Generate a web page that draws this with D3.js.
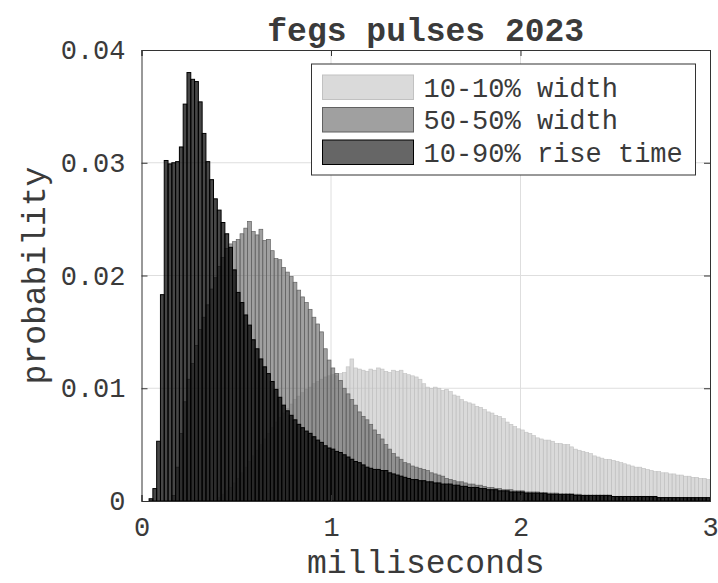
<!DOCTYPE html>
<html>
<head>
<meta charset="utf-8">
<script src="https://cdn.jsdelivr.net/npm/d3@7"></script>
<style>
  html, body { margin: 0; padding: 0; background: #fff; }
  svg { display: block; }
  text { font-family: "Liberation Mono", "DejaVu Sans Mono", monospace; fill: #3a3a3a; }
</style>
</head>
<body>
<svg id="chart" width="718" height="583"></svg>
<script>
// Histogram bins: 0.02 ms wide, covering 0 to 3 ms (150 bins).
const binWidth = 0.02;
const binStarts = d3.range(150).map(i => +(i * binWidth).toFixed(2));

// 10-10% width
const width1010 = [
  0,0,0,0,0,0,0,0,0,0,
  0,0,0,0,0,0,0,0,0,0,
  0.0003,0.0006,0.0009,0.0012,0.0016,0.0020,0.0025,0.0030,0.0035,0.0040,
  0.0045,0.0050,0.0055,0.0060,0.0065,0.0070,0.0074,0.0078,0.0082,0.0086,
  0.0090,0.0093,0.0096,0.0099,0.0101,0.0104,0.0106,0.0108,0.0110,0.0111,
  0.0112,0.0111,0.0113,0.0114,0.0119,0.0126,0.0118,0.0117,0.0116,0.0115,
  0.0117,0.0116,0.0118,0.0117,0.0115,0.0114,0.0116,0.0115,0.0116,0.0113,
  0.0112,0.0111,0.0110,0.0108,0.0104,0.0101,0.0100,0.0101,0.0100,0.0098,
  0.0099,0.0097,0.0094,0.0093,0.0090,0.0088,0.0087,0.0086,0.0084,0.0083,
  0.0081,0.0079,0.0078,0.0076,0.0075,0.0073,0.0070,0.0068,0.0066,0.0064,
  0.0063,0.0061,0.0060,0.0058,0.0056,0.0055,0.0054,0.0054,0.0053,0.0051,
  0.0051,0.0050,0.0050,0.0048,0.0046,0.0045,0.0044,0.0043,0.0042,0.0040,
  0.0039,0.0038,0.0037,0.0037,0.0036,0.0035,0.0034,0.0033,0.0032,0.0031,
  0.0030,0.0030,0.0029,0.0028,0.0027,0.0026,0.0026,0.0025,0.0025,0.0024,
  0.0024,0.0023,0.0023,0.0022,0.0022,0.0021,0.0021,0.0020,0.0020,0.0019
];

// 50-50% width
const width5050 = [
  0,0,0,0,0,0,0,0,0.0005,0.0030,
  0.0060,0.0088,0.0108,0.0122,0.0138,0.0152,0.0163,0.0174,0.0188,0.0198,
  0.0208,0.0216,0.0224,0.0228,0.0230,0.0232,0.0237,0.0242,0.0248,0.0239,
  0.0236,0.0241,0.0231,0.0232,0.0222,0.0215,0.0214,0.0207,0.0203,0.0199,
  0.0194,0.0187,0.0181,0.0176,0.0170,0.0163,0.0157,0.0150,0.0135,0.0125,
  0.0118,0.0113,0.0107,0.0100,0.0095,0.0090,0.0085,0.0079,0.0075,0.0072,
  0.0068,0.0063,0.0059,0.0055,0.0050,0.0046,0.0042,0.0039,0.0037,0.0034,
  0.0033,0.0031,0.0030,0.0029,0.0028,0.0027,0.0025,0.0024,0.0023,0.0022,
  0.0020,0.0019,0.0018,0.0017,0.0017,0.0016,0.0015,0.0015,0.0014,0.0014,
  0.0013,0.0012,0.0012,0.0011,0.0011,0.0010,0.0010,0.0010,0.0009,0.0009,
  0.0009,0.0008,0.0008,0.0008,0.0008,0.0007,0.0007,0.0007,0.0007,0.0007,
  0.0006,0.0006,0.0006,0.0006,0.0006,0.0006,0.0005,0.0005,0.0005,0.0005,
  0.0005,0.0005,0.0005,0.0004,0.0004,0.0004,0.0004,0.0004,0.0004,0.0004,
  0.0004,0.0004,0.0003,0.0003,0.0003,0.0003,0.0003,0.0003,0.0003,0.0003,
  0.0003,0.0003,0.0002,0.0002,0.0002,0.0002,0.0002,0.0002,0.0002,0.0002
];

// 10-90% rise time
const riseTime1090 = [
  0,0,0.0002,0.0011,0.0053,0.0183,0.0302,0.0299,0.0300,0.0301,
  0.0314,0.0352,0.0380,0.0374,0.0372,0.0354,0.0326,0.0301,0.0285,0.0268,
  0.0258,0.0247,0.0237,0.0225,0.0205,0.0185,0.0176,0.0165,0.0156,0.0143,
  0.0135,0.0126,0.0119,0.0113,0.0106,0.0099,0.0092,0.0085,0.0080,0.0076,
  0.0072,0.0068,0.0065,0.0062,0.0060,0.0057,0.0054,0.0052,0.0049,0.0047,
  0.0046,0.0044,0.0043,0.0041,0.0039,0.0037,0.0035,0.0034,0.0032,0.0030,
  0.0029,0.0028,0.0028,0.0027,0.0027,0.0025,0.0024,0.0023,0.0022,0.0021,
  0.0020,0.0019,0.0019,0.0018,0.0018,0.0017,0.0017,0.0016,0.0016,0.0015,
  0.0015,0.0015,0.0014,0.0014,0.0013,0.0013,0.0012,0.0012,0.0012,0.0011,
  0.0011,0.0010,0.0010,0.0010,0.0009,0.0009,0.0009,0.0008,0.0008,0.0008,
  0.0008,0.0007,0.0007,0.0007,0.0007,0.0007,0.0007,0.0006,0.0006,0.0006,
  0.0006,0.0006,0.0006,0.0006,0.0005,0.0005,0.0005,0.0005,0.0005,0.0005,
  0.0005,0.0005,0.0005,0.0005,0.0004,0.0004,0.0004,0.0004,0.0004,0.0004,
  0.0004,0.0004,0.0004,0.0004,0.0004,0.0004,0.0003,0.0003,0.0003,0.0003,
  0.0003,0.0003,0.0003,0.0003,0.0003,0.0003,0.0003,0.0003,0.0003,0.0003
];

const seriesNames = ["10-10% width", "50-50% width", "10-90% rise time"];
const seriesValues = [width1010, width5050, riseTime1090];
const seriesColors = ["#c1c1c1", "#616161", "#000000"];
// bar face opacity / edge width per series in the plot
const barAlpha = [0.6, 0.6, 0.72];
const barEdge = [0.6, 0.7, 1.0];

const xTicks = [0, 1, 2, 3];
const xTickLabels = ["0", "1", "2", "3"];
const yTicks = [0, 0.01, 0.02, 0.03, 0.04];
const yTickLabels = ["0", "0.01", "0.02", "0.03", "0.04"];

const titleText = "fegs pulses 2023";
const xLabelText = "milliseconds";
const yLabelText = "probability";

// Layout
const W = 718, H = 583;
const plot = { left: 141.5, right: 710, top: 50, bottom: 501 };
const legendAlpha = 0.6;

const svg = d3.select("#chart");

const x = d3.scaleLinear().domain([0, 3]).range([plot.left, plot.right]);
const y = d3.scaleLinear().domain([0, 0.04]).range([plot.bottom, plot.top]);

// Grid lines (beneath the bars)
const grid = svg.append("g").attr("class", "grid");
grid.selectAll("line.gx").data(xTicks.slice(1, -1)).join("line")
  .attr("x1", d => x(d)).attr("x2", d => x(d))
  .attr("y1", plot.top).attr("y2", plot.bottom)
  .attr("stroke", "#dedede").attr("stroke-width", 1);
grid.selectAll("line.gy").data(yTicks.slice(1, -1)).join("line")
  .attr("x1", plot.left).attr("x2", plot.right)
  .attr("y1", d => y(d)).attr("y2", d => y(d))
  .attr("stroke", "#dedede").attr("stroke-width", 1);

// Histogram bars, drawn in series order so the rise time sits on top
seriesValues.forEach((vals, si) => {
  const data = binStarts.map((b, i) => ({ b, v: vals[i] })).filter(d => d.v > 0);
  svg.append("g").attr("class", "series-" + si)
    .selectAll("rect").data(data).join("rect")
    .attr("x", d => x(d.b))
    .attr("width", d => x(d.b + binWidth) - x(d.b))
    .attr("y", d => y(d.v))
    .attr("height", d => y(0) - y(d.v))
    .attr("fill", seriesColors[si])
    .attr("fill-opacity", barAlpha[si])
    .attr("stroke", seriesColors[si])
    .attr("stroke-width", barEdge[si]);
});

// Axes box with inward ticks on all four sides
const axisColor = "#333";
const tickFont = 27;

const xAxis = d3.axisBottom(x).tickValues(xTicks)
  .tickFormat((d, i) => xTickLabels[i]).tickSize(-6).tickPadding(16);
const gx = svg.append("g").attr("transform", `translate(0,${plot.bottom})`).call(xAxis);
gx.selectAll("text").attr("font-size", tickFont).attr("fill", "#444");

const xAxisTop = d3.axisTop(x).tickValues(xTicks).tickFormat("").tickSize(-6);
svg.append("g").attr("transform", `translate(0,${plot.top})`).call(xAxisTop);

const yAxis = d3.axisLeft(y).tickValues(yTicks)
  .tickFormat((d, i) => yTickLabels[i]).tickSize(-6).tickPadding(16);
const gy = svg.append("g").attr("transform", `translate(${plot.left},0)`).call(yAxis);
gy.selectAll("text").attr("font-size", tickFont).attr("fill", "#444");

const yAxisRight = d3.axisRight(y).tickValues(yTicks).tickFormat("").tickSize(-6);
svg.append("g").attr("transform", `translate(${plot.right},0)`).call(yAxisRight);

svg.selectAll(".domain").attr("stroke", axisColor);
svg.selectAll(".tick line").attr("stroke", axisColor);
svg.selectAll(".tick text").style("font-family", "'Liberation Mono', monospace");

// Title and axis labels
svg.append("text")
  .attr("x", (plot.left + plot.right) / 2).attr("y", 41)
  .attr("text-anchor", "middle").attr("font-size", 33).attr("font-weight", "bold")
  .attr("fill", "#151515")
  .text(titleText);

svg.append("text")
  .attr("x", (plot.left + plot.right) / 2).attr("y", 573)
  .attr("text-anchor", "middle").attr("font-size", 33)
  .text(xLabelText);

svg.append("text")
  .attr("transform", `translate(45,${(plot.top + plot.bottom) / 2}) rotate(-90)`)
  .attr("text-anchor", "middle").attr("font-size", 33)
  .text(yLabelText);

// Legend
const legend = { x: 311.5, y: 64, w: 384, h: 111 };
const lg = svg.append("g");
lg.append("rect")
  .attr("x", legend.x).attr("y", legend.y)
  .attr("width", legend.w).attr("height", legend.h)
  .attr("fill", "#fff").attr("stroke", axisColor).attr("stroke-width", 1);

seriesNames.forEach((name, i) => {
  const rowY = legend.y + 11 + i * 32.5;
  lg.append("rect")
    .attr("x", legend.x + 11).attr("y", rowY)
    .attr("width", 91).attr("height", 24.5)
    .attr("fill", seriesColors[i]).attr("fill-opacity", legendAlpha)
    .attr("stroke", seriesColors[i]).attr("stroke-width", 1);
  lg.append("text")
    .attr("x", legend.x + 112).attr("y", rowY + 12.5)
    .attr("dy", "0.35em").attr("font-size", 27)
    .text(name);
});
</script>
</body>
</html>
